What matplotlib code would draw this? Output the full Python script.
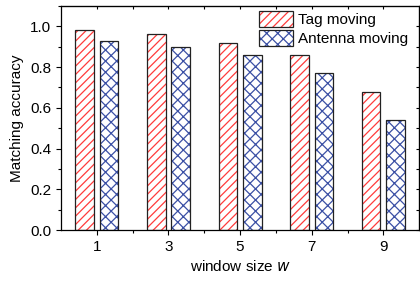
import matplotlib
matplotlib.use("Agg")
import matplotlib.pyplot as plt
import numpy as np
from matplotlib.ticker import MultipleLocator
from matplotlib.patches import Patch
from matplotlib.legend_handler import HandlerTuple

plt.rcParams['font.family'] = ['Liberation Sans', 'DejaVu Sans']
plt.rcParams['hatch.linewidth'] = 0.9

window_sizes = [1, 3, 5, 7, 9]
tag_moving = [0.98, 0.96, 0.92, 0.86, 0.68]
antenna_moving = [0.93, 0.90, 0.86, 0.77, 0.54]

x = np.array(window_sizes, dtype=float)
width = 0.52
red = '#ff3b3b'
blue = '#3b50a5'
edge = '#222222'

fig = plt.figure(figsize=(4.2, 2.81), dpi=100)
ax = fig.add_axes([0.145, 0.181, 0.853, 0.798])

# hatch layer + black outline layer
ax.bar(x - 0.34, tag_moving, width, facecolor='white', edgecolor=red,
       hatch='////', linewidth=0)
ax.bar(x - 0.34, tag_moving, width, facecolor='none', edgecolor=edge, linewidth=0.9)
ax.bar(x + 0.34, antenna_moving, width, facecolor='white', edgecolor=blue,
       hatch='xxx', linewidth=0)
ax.bar(x + 0.34, antenna_moving, width, facecolor='none', edgecolor=edge, linewidth=0.9)

h_tag = (Patch(facecolor='white', edgecolor=red, hatch='////', linewidth=0),
         Patch(facecolor='none', edgecolor=edge, linewidth=0.9))
h_ant = (Patch(facecolor='white', edgecolor=blue, hatch='xxx', linewidth=0),
         Patch(facecolor='none', edgecolor=edge, linewidth=0.9))
ax.legend([h_tag, h_ant], ['Tag moving', 'Antenna moving'], loc='upper right',
          handler_map={tuple: HandlerTuple(ndivide=1)},
          frameon=False, fontsize=11, handlelength=2.2, handleheight=1.2,
          handletextpad=0.3, labelspacing=0.2, borderaxespad=0.0,
          bbox_to_anchor=(0.985, 1.005))

ax.set_xlim(0, 10)
ax.set_ylim(0, 1.1)
ax.set_xticks(window_sizes)
ax.set_xticks([2, 4, 6, 8], minor=True)
ax.yaxis.set_major_locator(MultipleLocator(0.2))
ax.yaxis.set_minor_locator(MultipleLocator(0.1))
ax.tick_params(which='major', direction='out', length=3.5, width=0.8, labelsize=11)
ax.tick_params(which='minor', direction='out', length=2, width=0.8)

sx = ax.secondary_xaxis('top')
sx.set_xticks(np.arange(1, 10))
sx.tick_params(direction='in', length=2.5, width=0.8, labeltop=False)
sy = ax.secondary_yaxis('right')
sy.set_yticks(np.arange(0, 1.05, 0.1))
sy.tick_params(direction='in', length=2.5, width=0.8, labelright=False)

for s in ax.spines.values():
    s.set_linewidth(0.9)

ax.set_yticklabels([f'{v:.1f}' for v in ax.get_yticks()])
ax.set_xlabel('window size $\\it{w}$', fontsize=11)
ax.set_ylabel('Matching accuracy', fontsize=11)

fig.savefig('out.png', dpi=100)
